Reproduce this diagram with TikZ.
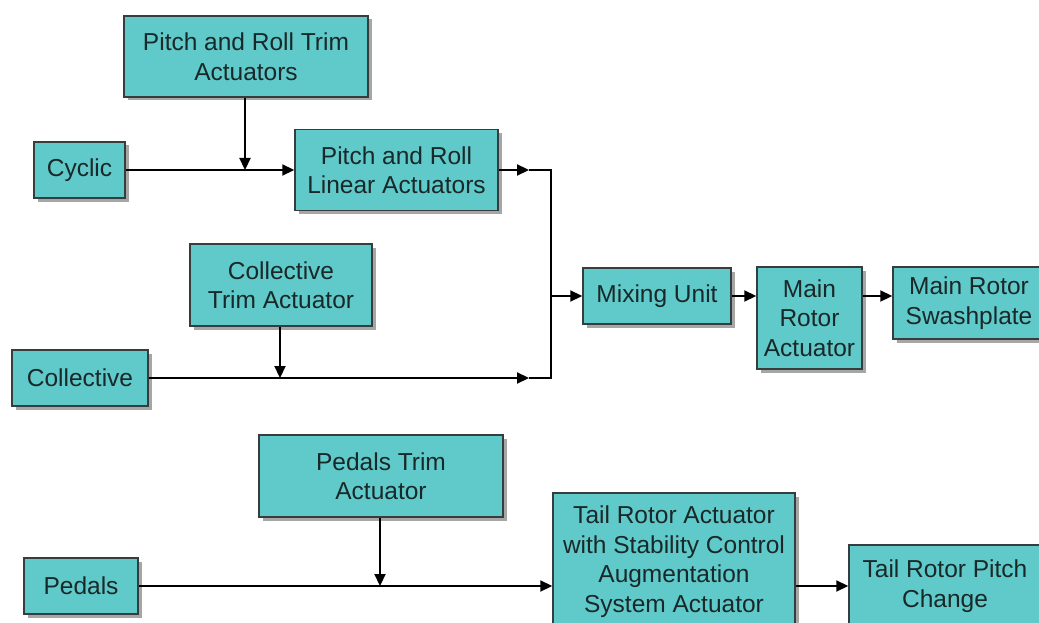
\documentclass[tikz,border=0pt]{standalone}
\usepackage{fontspec}
\setmainfont{Liberation Sans}
\usetikzlibrary{arrows.meta,shadows}
\definecolor{boxfill}{RGB}{96,201,201}
\definecolor{boxline}{RGB}{55,60,60}
\definecolor{txt}{RGB}{25,40,40}
\begin{document}
\begin{tikzpicture}[x=1pt,y=-1pt,
  blk/.style={draw=boxline,line width=1.5pt,fill=boxfill,text=txt,align=center,
    inner sep=0pt,font=\fontsize{24.5}{29.5}\selectfont,
    drop shadow={shadow xshift=3.5pt,shadow yshift=-3.5pt,fill=black,opacity=0.35}},
  conn/.style={line width=2.2pt,draw=black},
  arr/.style={conn,-{Triangle[length=12pt,width=11pt]}}]
\useasboundingbox (0,0) rectangle (1039,623);
\clip (0,0) rectangle (1039,623);
\fill[white] (0,0) rectangle (1039,623);
\node[blk,minimum width=244pt,minimum height=81pt] (prt) at (246,56.5) {Pitch and Roll Trim\\Actuators};
\node[blk,minimum width=91pt,minimum height=56pt] (cyc) at (79.5,170) {Cyclic};
\node[blk,minimum width=203pt,minimum height=81pt] (prl) at (396.5,170) {Pitch and Roll\\Linear Actuators};
\node[blk,minimum width=182pt,minimum height=82pt] (ct) at (281,285) {Collective\\Trim Actuator};
\node[blk,minimum width=136pt,minimum height=56pt] (col) at (80,378) {Collective};
\node[blk,minimum width=148pt,minimum height=56pt] (mix) at (657,296) {Mixing Unit};
\node[blk,minimum width=105pt,minimum height=102pt] (mra) at (809.5,318) {Main\\Rotor\\Actuator};
\node[blk,minimum width=152pt,minimum height=72pt] (mrs) at (969,303) {Main Rotor\\Swashplate};
\node[blk,minimum width=244pt,minimum height=82pt] (pt) at (381,476) {Pedals Trim\\Actuator};
\node[blk,minimum width=114pt,minimum height=56pt] (ped) at (81,586) {Pedals};
\node[blk,minimum width=242pt,minimum height=137pt] (tra) at (674,561.5) {Tail Rotor Actuator\\with Stability Control\\Augmentation\\System Actuator};
\node[blk,minimum width=192pt,minimum height=82pt] (trp) at (945,586) {Tail Rotor Pitch\\Change};
% junction coordinates
\coordinate (j1) at (245,170);
\coordinate (a1) at (529,170);
\coordinate (b1) at (551,170);
\coordinate (j2) at (280,378);
\coordinate (a2) at (529,378);
\coordinate (b2) at (551,378);
\coordinate (bm) at (551,296);
\coordinate (j3) at (380,586);
% top group
\draw[arr] (cyc.east) -- (prl.west |- cyc.east);
\draw[arr] (prt.south -| j1) -- (j1);
\draw[arr] (prl.east |- a1) -- (a1);
\draw[conn] (a1) -- (b1) -- (b2) -- (a2);
\draw[arr] (col.east) -- (a2);
\draw[arr] (ct.south -| j2) -- (j2);
\draw[arr] (bm) -- (mix.west |- bm);
\draw[arr] (mix.east) -- (mra.west |- mix.east);
\draw[arr] (mra.east |- mix.east) -- (mrs.west |- mix.east);
% bottom group
\draw[arr] (ped.east) -- (tra.west |- ped.east);
\draw[arr] (pt.south -| j3) -- (j3);
\draw[arr] (tra.east |- trp.west) -- (trp.west);
\end{tikzpicture}
\end{document}
